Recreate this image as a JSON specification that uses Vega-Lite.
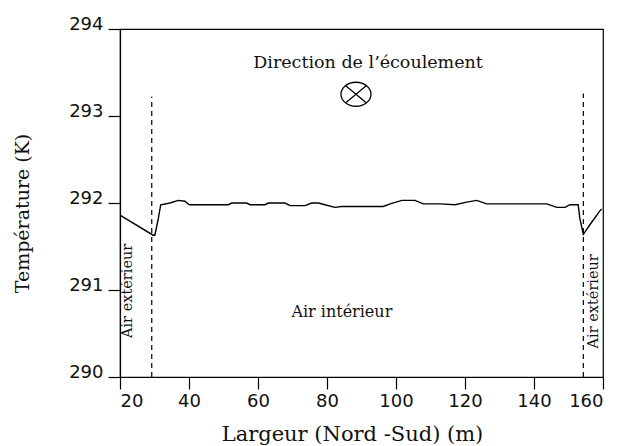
{
  "$schema": "https://vega.github.io/schema/vega-lite/v6.json",
  "width": 483,
  "height": 348,
  "autosize": {"type": "none"},
  "padding": {"left": 120, "top": 29, "right": 19, "bottom": 69},
  "background": "white",
  "config": {
    "view": {"stroke": "black", "strokeWidth": 1.2},
    "axis": {
      "grid": false,
      "domainColor": "black",
      "domainWidth": 1.2,
      "tickColor": "black",
      "tickWidth": 1.2,
      "tickSize": 12,
      "labelFont": "DejaVu Sans",
      "labelFontSize": 18,
      "labelColor": "#111",
      "titleFont": "DejaVu Serif",
      "titleFontSize": 19,
      "titleFontWeight": "normal",
      "titleColor": "#111"
    }
  },
  "layer": [
    {
      "data": {"values": [
        {"x": 20, "T": 291.86}, {"x": 29.6, "T": 291.63}, {"x": 30.1, "T": 291.63},
        {"x": 31.1, "T": 291.82}, {"x": 31.8, "T": 291.98}, {"x": 34.5, "T": 292.0},
        {"x": 36.9, "T": 292.03}, {"x": 38.8, "T": 292.02}, {"x": 40.1, "T": 291.98},
        {"x": 51.4, "T": 291.98}, {"x": 52.4, "T": 292.0}, {"x": 56.7, "T": 292.0},
        {"x": 57.7, "T": 291.98}, {"x": 62.0, "T": 291.98}, {"x": 63.0, "T": 292.0},
        {"x": 67.8, "T": 292.0}, {"x": 69.3, "T": 291.97}, {"x": 73.6, "T": 291.97},
        {"x": 75.6, "T": 292.0}, {"x": 77.5, "T": 292.0}, {"x": 79.4, "T": 291.98},
        {"x": 82.3, "T": 291.95}, {"x": 84.3, "T": 291.96}, {"x": 96.3, "T": 291.96},
        {"x": 98.3, "T": 291.99}, {"x": 101.7, "T": 292.03}, {"x": 105.5, "T": 292.03},
        {"x": 107.9, "T": 291.99}, {"x": 112.8, "T": 291.99}, {"x": 117.1, "T": 291.98},
        {"x": 120.5, "T": 292.01}, {"x": 123.4, "T": 292.03}, {"x": 126.3, "T": 291.99},
        {"x": 143.7, "T": 291.99}, {"x": 146.6, "T": 291.95}, {"x": 149.0, "T": 291.95},
        {"x": 150.4, "T": 291.98}, {"x": 152.8, "T": 291.98}, {"x": 153.3, "T": 291.82},
        {"x": 154.3, "T": 291.64}, {"x": 156.2, "T": 291.75}, {"x": 159.1, "T": 291.91},
        {"x": 159.6, "T": 291.93}
      ]},
      "mark": {"type": "line", "color": "black", "strokeWidth": 1.4, "clip": true},
      "encoding": {
        "x": {
          "field": "x", "type": "quantitative",
          "scale": {"domain": [20, 160], "nice": false, "zero": false},
          "axis": {
            "values": [20, 40, 60, 80, 100, 120, 140, 160],
            "title": "Largeur (Nord -Sud)  (m)",
            "titleFontSize": 21,
            "labelPadding": 3,
            "titleX": 232,
            "titleY": 63,
            "titleBaseline": "alphabetic",
            "titleAnchor": "middle",
            "titleAlign": "center"
          }
        },
        "y": {
          "field": "T", "type": "quantitative",
          "scale": {"domain": [290, 294], "nice": false, "zero": false},
          "axis": {
            "values": [290, 291, 292, 293, 294],
            "format": "d",
            "title": "Température (K)",
            "labelPadding": 5,
            "labelBaseline": "alphabetic",
            "titleX": -92,
            "titleY": 184,
            "titleAngle": -90,
            "titleBaseline": "alphabetic",
            "titleAlign": "center"
          }
        }
      }
    },
    {
      "data": {"values": [
        {"x": 29.2, "T0": 290, "T1": 293.22},
        {"x": 154.3, "T0": 290, "T1": 293.26}
      ]},
      "mark": {"type": "rule", "color": "black", "strokeWidth": 1.2, "strokeDash": [5, 4]},
      "encoding": {
        "x": {"field": "x", "type": "quantitative"},
        "y": {"field": "T0", "type": "quantitative"},
        "y2": {"field": "T1"}
      }
    },
    {
      "data": {"values": [{"x": 91.9, "T": 293.61, "label": "Direction de l’écoulement"}]},
      "mark": {"type": "text", "font": "DejaVu Serif", "fontSize": 17.5, "color": "#111", "align": "center", "baseline": "middle"},
      "encoding": {
        "x": {"field": "x", "type": "quantitative"},
        "y": {"field": "T", "type": "quantitative"},
        "text": {"field": "label"}
      }
    },
    {
      "data": {"values": [{"x": 84.3, "T": 290.75, "label": "Air intérieur"}]},
      "mark": {"type": "text", "font": "DejaVu Serif", "fontSize": 16, "color": "#111", "align": "center", "baseline": "middle"},
      "encoding": {
        "x": {"field": "x", "type": "quantitative"},
        "y": {"field": "T", "type": "quantitative"},
        "text": {"field": "label"}
      }
    },
    {
      "data": {"values": [
        {"x": 22.4, "T": 290.99, "label": "Air extérieur"},
        {"x": 157.3, "T": 290.87, "label": "Air extérieur"}
      ]},
      "mark": {"type": "text", "font": "DejaVu Serif", "fontSize": 14.5, "color": "#111", "align": "center", "baseline": "middle", "angle": 270},
      "encoding": {
        "x": {"field": "x", "type": "quantitative"},
        "y": {"field": "T", "type": "quantitative"},
        "text": {"field": "label"}
      }
    },
    {
      "data": {"values": [{"x": 88.4, "T": 293.25}]},
      "mark": {
        "type": "point",
        "filled": false,
        "color": "black",
        "strokeWidth": 1.3,
        "opacity": 1,
        "size": 900,
        "shape": "M -1 0 A 1 0.8 0 1 0 1 0 A 1 0.8 0 1 0 -1 0 M -0.68 -0.56 L 0.68 0.56 M -0.68 0.56 L 0.68 -0.56"
      },
      "encoding": {
        "x": {"field": "x", "type": "quantitative"},
        "y": {"field": "T", "type": "quantitative"}
      }
    }
  ]
}
